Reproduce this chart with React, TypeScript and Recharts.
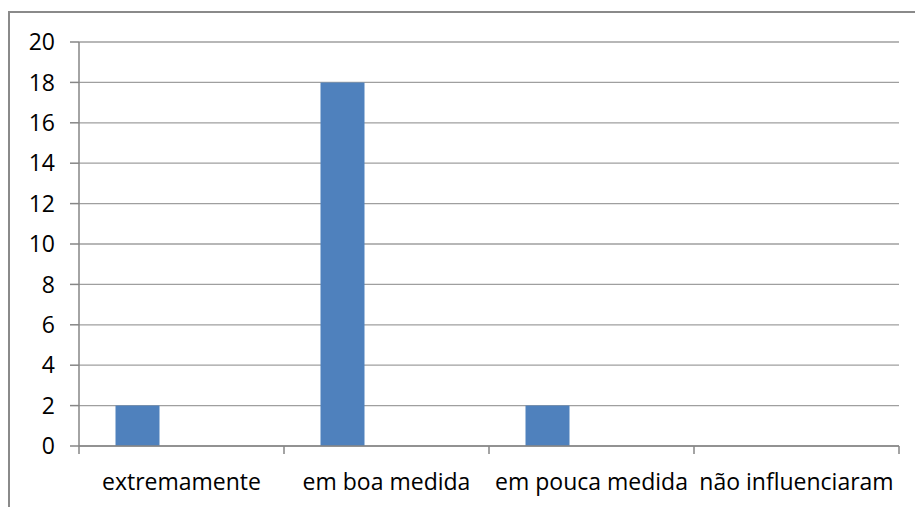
import React from "react"
import { BarChart, Bar, XAxis, YAxis, CartesianGrid } from "recharts"

const categories = ["extremamente", "em boa medida", "em pouca medida", "não influenciaram"]
const serie1 = [2, 18, 2, 0]
const serie2 = [0, 0, 0, 0]
const serie3 = [0, 0, 0, 0]
const yTicks = [0, 2, 4, 6, 8, 10, 12, 14, 16, 18, 20]

const data = categories.map((name, i) => ({
    name,
    s1: serie1[i],
    s2: serie2[i],
    s3: serie3[i],
}))

const font = "'Open Sans', sans-serif"
const axisGray = "#868686"

// category label plus the Excel-style tick marks on the category boundaries
function CategoryTick(props: any) {
    const { x, y, payload, index, visibleTicksCount } = props
    const half = payload.offset || 0
    const axisY = y - 28
    return (
        <g>
            <line x1={x - half} y1={axisY} x2={x - half} y2={axisY + 8} stroke={axisGray} strokeWidth={1.5} />
            {index === visibleTicksCount - 1 && (
                <line x1={x + half} y1={axisY} x2={x + half} y2={axisY + 8} stroke={axisGray} strokeWidth={1.5} />
            )}
            <text x={x} y={y} dy="0.71em" textAnchor="middle" fill="#000" fontSize={23} fontFamily={font}>
                {payload.value}
            </text>
        </g>
    )
}

export default function App() {
    return (
        <div style={{ position: "absolute", left: 0, top: 0, width: 915, height: 507, overflow: "hidden", background: "#fff" }}>
            {/* chart frame, runs past the right and bottom edges */}
            <div style={{ position: "absolute", left: 8, top: 11, width: 1000, height: 600, border: "2px solid #8a8a8a" }} />
            <div style={{ position: "absolute", left: 0, top: 0 }}>
                <BarChart
                    width={915}
                    height={507}
                    data={data}
                    margin={{ top: 42, right: 16, bottom: 0, left: 0 }}
                    barCategoryGap={36.5}
                    barGap={0}
                >
                    <CartesianGrid horizontal vertical={false} stroke="#9f9f9f" strokeWidth={1.3} />
                    <XAxis
                        dataKey="name"
                        height={61}
                        axisLine={{ stroke: axisGray, strokeWidth: 1.5 }}
                        tickLine={false}
                        tickSize={0}
                        tickMargin={28}
                        interval={0}
                        tick={<CategoryTick />}
                    />
                    <YAxis
                        domain={[0, 20]}
                        ticks={yTicks}
                        width={79}
                        tickSize={9}
                        tickMargin={15}
                        axisLine={{ stroke: axisGray, strokeWidth: 1.5 }}
                        tickLine={{ stroke: axisGray, strokeWidth: 1.5 }}
                        interval={0}
                        tick={{ fill: "#000", fontSize: 23, fontFamily: font }}
                    />
                    <Bar dataKey="s1" fill="#4f81bd" isAnimationActive={false} />
                    <Bar dataKey="s2" fill="#c0504d" isAnimationActive={false} />
                    <Bar dataKey="s3" fill="#9bbb59" isAnimationActive={false} />
                </BarChart>
            </div>
        </div>
    )
}
